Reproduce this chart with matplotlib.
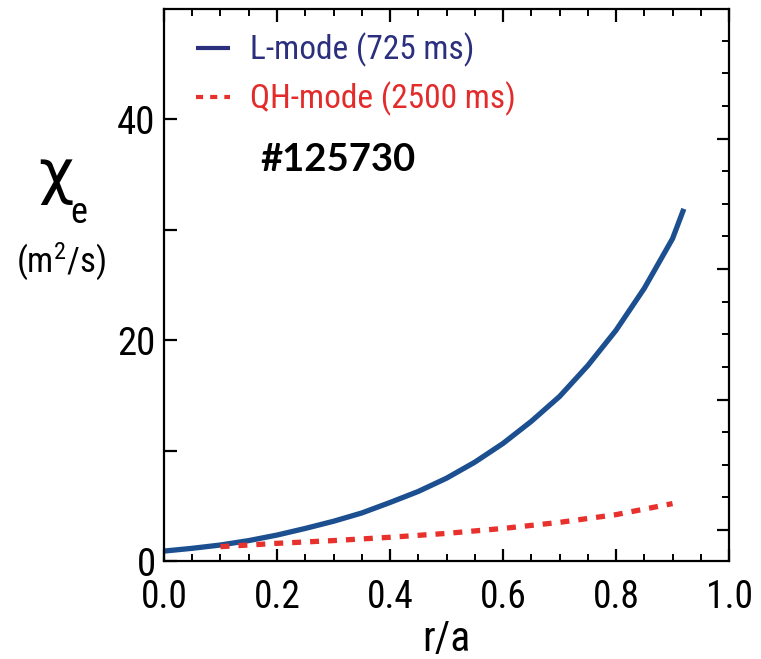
import matplotlib
matplotlib.use("Agg")
import matplotlib.pyplot as plt
import numpy as np

# L-mode chi_e profile (725 ms)
r_lmode = [0.0, 0.05, 0.1, 0.15, 0.2, 0.25, 0.3, 0.35, 0.4, 0.45, 0.5,
           0.55, 0.6, 0.65, 0.7, 0.75, 0.8, 0.85, 0.9, 0.92]
chi_lmode = [0.9, 1.15, 1.45, 1.85, 2.35, 2.95, 3.6, 4.35, 5.3, 6.3, 7.5,
             8.95, 10.65, 12.65, 14.9, 17.7, 20.9, 24.7, 29.2, 31.9]

# QH-mode chi_e profile (2500 ms)
r_qh = [0.1, 0.2, 0.3, 0.4, 0.5, 0.6, 0.7, 0.8, 0.9]
chi_qh = [1.3, 1.6, 1.85, 2.15, 2.5, 2.95, 3.5, 4.2, 5.2]

labels = ["L-mode (725 ms)", "QH-mode (2500 ms)"]
shot = "#125730"

cond = ["Roboto Condensed", "DejaVu Sans"]

fig = plt.figure(figsize=(7.61, 6.59), dpi=100)
ax = fig.add_axes([0.2155, 0.1487, 0.7425, 0.8376])

l1, = ax.plot(r_lmode, chi_lmode, color="#1c4f8f", lw=3.8,
              solid_capstyle="butt", solid_joinstyle="round")
l2, = ax.plot(r_qh, chi_qh, color="#e8302c", lw=3.8, linestyle=(0, (1.7, 1.7)))

ax.set_xlim(0, 1.0)
ax.set_ylim(0, 50)

for s in ax.spines.values():
    s.set_linewidth(1.6)

ax.set_xticks(np.arange(0, 1.01, 0.2))
ax.set_xticklabels(["0.0", "0.2", "0.4", "0.6", "0.8", "1.0"])
ax.set_xticks(np.arange(0, 1.01, 0.05), minor=True)
ax.set_yticks([0, 10, 20, 30, 40])
ax.set_yticklabels(["0", "", "20", "", "40"])
ax.tick_params(axis="x", which="major", direction="in", length=9, width=1.6,
               top=True, pad=13)
ax.tick_params(axis="x", which="minor", direction="in", length=5, width=1.4, top=True)
ax.tick_params(axis="y", which="major", direction="in", length=9, width=1.6, pad=6)
for lab in ax.get_xticklabels():
    lab.set_family(cond)
    lab.set_fontsize(27)
for lab in ax.get_yticklabels():
    lab.set_family(cond)
    lab.set_fontsize(28)

# right-hand tick marks
ax2 = ax.twinx()
ax2.set_ylim(-0.95, 15.97)
ax2.set_yticks([0, 4, 8, 12])
ax2.set_yticks(range(16), minor=True)
ax2.set_yticklabels([])
ax2.tick_params(axis="y", which="major", direction="in", length=9, width=1.6)
ax2.tick_params(axis="y", which="minor", direction="in", length=5, width=1.4)
for s in ax2.spines.values():
    s.set_visible(False)

ax.set_xlabel("r/a", family=cond, fontsize=30, labelpad=2)

fig.text(0.073, 0.733, "χ", fontsize=44, family=["DejaVu Sans"],
         ha="center", va="center")
fig.text(0.104, 0.677, "e", family=cond, fontsize=26, ha="center", va="center")
fig.text(0.080, 0.603, "(m$\\mathregular{^2}$/s)", family=cond, fontsize=25,
         ha="center", va="center")

leg = ax.legend([l1, l2], labels, loc="upper left", bbox_to_anchor=(0.004, 1.012),
                frameon=False, handlelength=1.0, handletextpad=0.6,
                labelspacing=0.45, prop={"family": cond, "size": 24})
leg.legend_handles[0].set_color("#2b2f7e")
leg.legend_handles[0].set_linewidth(3)
leg.legend_handles[1].set_linewidth(3)
leg.get_texts()[0].set_color("#2b2f7e")
leg.get_texts()[1].set_color("#e32b2b")

ax.text(0.17, 0.727, shot, transform=ax.transAxes, fontsize=27.5, fontweight="bold",
        family=["Lato", "DejaVu Sans"], va="center", ha="left")

fig.savefig("out.png", dpi=100)
